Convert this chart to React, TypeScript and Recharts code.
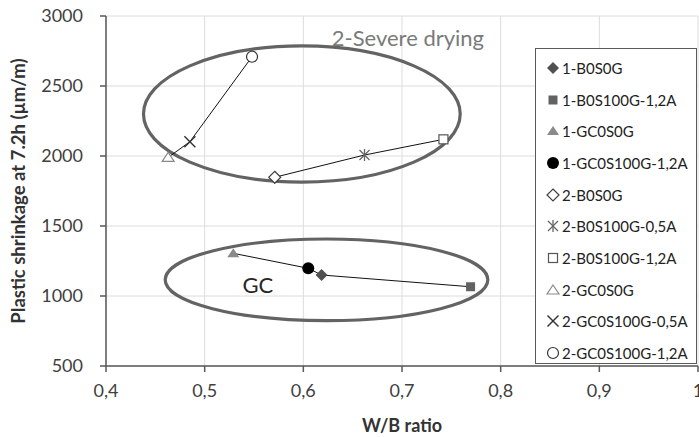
import React from "react"
import {
  ScatterChart,
  Scatter,
  XAxis,
  YAxis,
  CartesianGrid,
  ReferenceArea,
  ReferenceDot,
  Legend,
} from "recharts"

// series, in legend order
const seriesNames = [
  "1-B0S0G",
  "1-B0S100G-1,2A",
  "1-GC0S0G",
  "1-GC0S100G-1,2A",
  "2-B0S0G",
  "2-B0S100G-0,5A",
  "2-B0S100G-1,2A",
  "2-GC0S0G",
  "2-GC0S100G-0,5A",
  "2-GC0S100G-1,2A",
]
const wbRatio = [0.6185, 0.7695, 0.529, 0.605, 0.571, 0.662, 0.742, 0.463, 0.485, 0.548]
const shrinkage = [1150, 1066, 1305, 1198, 1848, 2007, 2119, 1990, 2102, 2709]

// which points are joined by a line
const lineGroups = [
  [2, 3, 0, 1],
  [7, 8, 9],
  [4, 5, 6],
]

const xTicks = [0.4, 0.5, 0.6, 0.7, 0.8, 0.9, 1]
const yTicks = [500, 1000, 1500, 2000, 2500, 3000]

// grouping ellipses (bounds in data units)
const zoneNames = ["severe", "gc"]
const zoneX1 = [0.438, 0.46]
const zoneX2 = [0.759, 0.787]
const zoneY1 = [1814, 824]
const zoneY2 = [2786, 1407]

// annotation texts
const noteTexts = ["2-Severe drying", "GC"]
const noteX = [0.706, 0.554]
const noteY = [2843, 1079]

const markerKinds = [
  "diamondFilled",
  "squareFilled",
  "triangleFilled",
  "circleFilled",
  "diamondOpen",
  "asterisk",
  "squareOpen",
  "triangleOpen",
  "cross",
  "circleOpen",
]

const FONT = "Lato, 'Open Sans', sans-serif"

function Marker({ kind, cx, cy }: { kind: string; cx: number; cy: number }) {
  switch (kind) {
    case "diamondFilled":
      return <polygon points={`${cx},${cy - 6} ${cx + 6},${cy} ${cx},${cy + 6} ${cx - 6},${cy}`} fill="#505050" />
    case "squareFilled":
      return <rect x={cx - 4.5} y={cy - 4.5} width={9} height={9} fill="#626262" />
    case "triangleFilled":
      return <polygon points={`${cx},${cy - 5} ${cx + 6},${cy + 4} ${cx - 6},${cy + 4}`} fill="#8a8a8a" />
    case "circleFilled":
      return <circle cx={cx} cy={cy} r={6} fill="#000" />
    case "diamondOpen":
      return (
        <polygon
          points={`${cx},${cy - 6} ${cx + 6},${cy} ${cx},${cy + 6} ${cx - 6},${cy}`}
          fill="#fff"
          stroke="#404040"
          strokeWidth={1.2}
        />
      )
    case "asterisk":
      return (
        <g stroke="#666" strokeWidth={1.3}>
          <line x1={cx - 5} y1={cy - 5} x2={cx + 5} y2={cy + 5} />
          <line x1={cx - 5} y1={cy + 5} x2={cx + 5} y2={cy - 5} />
          <line x1={cx} y1={cy - 6} x2={cx} y2={cy + 6} />
        </g>
      )
    case "squareOpen":
      return <rect x={cx - 4.5} y={cy - 4.5} width={9} height={9} fill="#fff" stroke="#555" strokeWidth={1.2} />
    case "triangleOpen":
      return (
        <polygon
          points={`${cx},${cy - 5} ${cx + 6},${cy + 4} ${cx - 6},${cy + 4}`}
          fill="#fff"
          stroke="#8a8a8a"
          strokeWidth={1.2}
        />
      )
    case "cross":
      return (
        <g stroke="#333" strokeWidth={1.4}>
          <line x1={cx - 5.5} y1={cy - 5.5} x2={cx + 5.5} y2={cy + 5.5} />
          <line x1={cx - 5.5} y1={cy + 5.5} x2={cx + 5.5} y2={cy - 5.5} />
        </g>
      )
    case "circleOpen":
      return <circle cx={cx} cy={cy} r={5.5} fill="#fff" stroke="#333" strokeWidth={1.2} />
    default:
      return <g />
  }
}

const LegendBox = (props: any) => {
  const items = (props.payload || []).filter((p: any) => seriesNames.includes(p.value))
  return (
    <div
      style={{
        width: 162,
        height: 316,
        border: "1.5px solid #5a5a5a",
        background: "#fff",
        paddingTop: 3,
        boxSizing: "border-box",
        fontFamily: FONT,
        fontSize: 15,
        color: "#222",
      }}
    >
      {items.map((item: any) => {
        const idx = seriesNames.indexOf(item.value)
        return (
          <div key={item.value} style={{ height: 31.7, display: "flex", alignItems: "center" }}>
            <svg width={26} height={16} style={{ flex: "none" }}>
              <Marker kind={markerKinds[idx]} cx={17} cy={8} />
            </svg>
            <span style={{ whiteSpace: "nowrap" }}>{item.value}</span>
          </div>
        )
      })}
    </div>
  )
}

const formatX = (v: number) => (v === 1 ? "1" : v.toFixed(1).replace(".", ","))

export default function App() {
  return (
    <div style={{ position: "absolute", left: 0, top: 0, width: 699, height: 437, background: "#fff" }}>
      <ScatterChart width={699} height={437} margin={{ top: 16, right: 1, bottom: 0, left: 0 }}>
        <CartesianGrid stroke="#dcdcdc" strokeWidth={1} horizontalValues={yTicks} verticalValues={xTicks} />
        <XAxis
          type="number"
          dataKey="x"
          domain={[0.4, 1]}
          ticks={xTicks}
          tickFormatter={formatX}
          height={71}
          interval={0}
          allowDataOverflow
          axisLine={{ stroke: "#595959", strokeWidth: 1.5 }}
          tickLine={{ stroke: "#595959", strokeWidth: 1.5 }}
          tickSize={6}
          tickMargin={12}
          tick={{ fill: "#404040", fontSize: 18, fontFamily: FONT }}
          label={{
            value: "W/B ratio",
            position: "insideBottom",
            offset: 5,
            style: { fill: "#333", fontSize: 18, fontWeight: 700, fontFamily: FONT },
          }}
        />
        <YAxis
          type="number"
          dataKey="y"
          domain={[500, 3000]}
          ticks={yTicks}
          width={106}
          interval={0}
          allowDataOverflow
          axisLine={{ stroke: "#595959", strokeWidth: 1.5 }}
          tickLine={{ stroke: "#595959", strokeWidth: 1.5 }}
          tickSize={6}
          tickMargin={17}
          tick={{ fill: "#404040", fontSize: 18, fontFamily: FONT }}
          label={{
            value: "Plastic shrinkage at 7.2h  (µm/m)",
            angle: -90,
            position: "insideLeft",
            offset: 18,
            style: { textAnchor: "middle", fill: "#333", fontSize: 18.5, fontWeight: 700, fontFamily: FONT },
          }}
        />
        {zoneNames.map((z, i) => (
          <ReferenceArea
            key={z}
            x1={zoneX1[i]}
            x2={zoneX2[i]}
            y1={zoneY1[i]}
            y2={zoneY2[i]}
            shape={(p: any) => (
              <ellipse
                cx={p.x + p.width / 2}
                cy={p.y + p.height / 2}
                rx={Math.abs(p.width) / 2}
                ry={Math.abs(p.height) / 2}
                fill="none"
                stroke="#636363"
                strokeWidth={3.2}
              />
            )}
          />
        ))}
        {noteTexts.map((t, i) => (
          <ReferenceDot
            key={t}
            x={noteX[i]}
            y={noteY[i]}
            shape={(p: any) => (
              <text
                x={p.cx}
                y={p.cy}
                textAnchor="middle"
                dominantBaseline="central"
                fontFamily={FONT}
                fontSize={22}
                fill={i === 0 ? "#7a7a7a" : "#262626"}
              >
                {t}
              </text>
            )}
          />
        ))}
        {lineGroups.map((g, gi) => (
          <Scatter
            key={"line" + gi}
            name={"line" + gi}
            data={g.map((i) => ({ x: wbRatio[i], y: shrinkage[i] }))}
            line={{ stroke: "#111", strokeWidth: 1 }}
            shape={() => <g />}
            legendType="none"
            isAnimationActive={false}
          />
        ))}
        {seriesNames.map((name, i) => (
          <Scatter
            key={name}
            name={name}
            data={[{ x: wbRatio[i], y: shrinkage[i] }]}
            fill="#333"
            shape={(p: any) => <Marker kind={markerKinds[i]} cx={p.cx} cy={p.cy} />}
            isAnimationActive={false}
          />
        ))}
        <Legend
          layout="vertical"
          align="center"
          verticalAlign="middle"
          content={LegendBox}
          wrapperStyle={{ left: 535, top: 48, width: 162, height: 316 }}
        />
      </ScatterChart>
    </div>
  )
}
